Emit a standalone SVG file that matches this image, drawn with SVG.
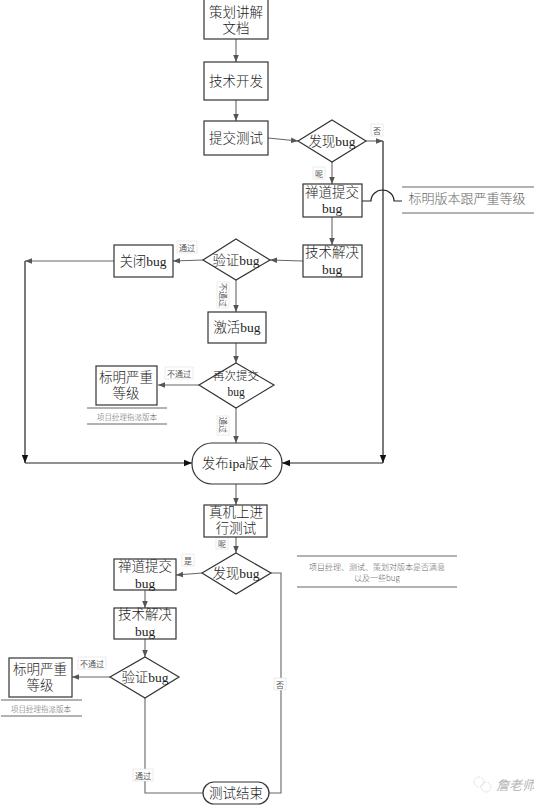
<svg xmlns="http://www.w3.org/2000/svg" width="534" height="809" viewBox="0 0 534 809">
<style>
.box{fill:#fff;stroke:#333;stroke-width:1.2}
.t{font-family:"Liberation Serif","Noto Sans CJK SC",serif;font-size:13.5px;font-weight:300;fill:#222;text-anchor:middle;dominant-baseline:central}
.ts{font-family:"Liberation Serif","Noto Sans CJK SC",serif;font-size:11.5px;font-weight:300;fill:#222;text-anchor:middle;dominant-baseline:central}
.c{fill:none;stroke:#666;stroke-width:1.1}
.cd{fill:none;stroke:#222;stroke-width:1.2}
.lb{font-family:"Noto Sans CJK SC",sans-serif;font-size:8px;fill:#555;text-anchor:middle;dominant-baseline:central}
.lbg{fill:#fff;stroke:#ddd;stroke-width:0.6}
.an{stroke:#666;stroke-width:1.2}
.at{font-family:"Noto Sans CJK SC",sans-serif;font-weight:300;fill:#666;text-anchor:middle;dominant-baseline:central}
</style>
<defs>
<marker id="ar" viewBox="0 0 10 10" refX="10" refY="5" markerWidth="7" markerHeight="7" markerUnits="userSpaceOnUse" orient="auto">
<path d="M0,1 L10,5 L0,9 Z" fill="#555"/>
</marker>
<marker id="ard" viewBox="0 0 10 10" refX="10" refY="5" markerWidth="8" markerHeight="8" markerUnits="userSpaceOnUse" orient="auto">
<path d="M0,1 L10,5 L0,9 Z" fill="#111"/>
</marker>
</defs>

<g id="connectors">
<path class="c" d="M236,39 L236,62" marker-end="url(#ar)"/>
<path class="c" d="M236,100 L236,121" marker-end="url(#ar)"/>
<path class="c" d="M268,138 L298,141" marker-end="url(#ar)"/>
<path class="c" d="M366,141 L383,141" marker-end="url(#ar)"/>
<path class="cd" d="M383,141 L383,463" marker-end="url(#ard)"/>
<path class="cd" d="M383,463 L282,463" marker-end="url(#ard)"/>
<path class="c" d="M332,162 L332,184" marker-end="url(#ar)"/>
<path class="cd" d="M362,201 L371,201 A11.5,11 0 0 1 394,201 L402,201"/>
<path class="c" d="M332,217 L332,245" marker-end="url(#ar)"/>
<path class="c" d="M303,261 L270,260" marker-end="url(#ar)"/>
<path class="c" d="M203,260 L173,261" marker-end="url(#ar)"/>
<path class="c" d="M114,261 L25,261" marker-end="url(#ar)"/>
<path class="cd" d="M25,261 L25,463" marker-end="url(#ard)"/>
<path class="cd" d="M25,463 L192,463" marker-end="url(#ard)"/>
<path class="c" d="M236,280 L236,312" marker-end="url(#ar)"/>
<path class="c" d="M236,343 L236,363" marker-end="url(#ar)"/>
<path class="c" d="M199,385 L158,385" marker-end="url(#ar)"/>
<path class="c" d="M236,408 L236,443" marker-end="url(#ar)"/>
<path class="c" d="M236,484 L236,505" marker-end="url(#ar)"/>
<path class="c" d="M236,537 L236,553" marker-end="url(#ar)"/>
<path class="c" d="M202,573 L176,575" marker-end="url(#ar)"/>
<path class="c" d="M145,590 L145,608" marker-end="url(#ar)"/>
<path class="c" d="M145,639 L145,657" marker-end="url(#ar)"/>
<path class="c" d="M110,677 L72,677" marker-end="url(#ar)"/>
<path class="c" d="M145,698 L145,793 L203,793"/>
<path class="c" d="M271,573 L281,573 L281,793 L269,793"/>

<rect class="lbg" x="371" y="124" width="12" height="12"/><text class="lb" x="377" y="130">否</text>
<rect class="lbg" x="313" y="167" width="12" height="12"/><text class="lb" x="319" y="173">呢</text>
<rect class="lbg" x="177" y="241" width="20" height="12"/><text class="lb" x="187" y="247">通过</text>
<rect class="lbg" x="217" y="282" width="12" height="26"/><text class="lb" transform="translate(223,295) rotate(90)">不通过</text>
<rect class="lbg" x="165" y="367" width="28" height="12"/><text class="lb" x="179" y="373">不通过</text>
<rect class="lbg" x="217" y="416" width="12" height="19"/><text class="lb" transform="translate(223,425) rotate(90)">通过</text>
<rect class="lbg" x="216" y="537" width="12" height="12"/><text class="lb" x="222" y="543">呢</text>
<rect class="lbg" x="182" y="554" width="12" height="12"/><text class="lb" x="188" y="560">是</text>
<rect class="lbg" x="78" y="657" width="28" height="12"/><text class="lb" x="92" y="663">不通过</text>
<rect class="lbg" x="133" y="769" width="20" height="12"/><text class="lb" x="143" y="775">通过</text>
<rect class="lbg" x="274" y="678" width="12" height="12"/><text class="lb" x="280" y="684">否</text>
</g>

<g id="n-plan"><rect class="box" x="204" y="-1" width="64" height="40"/><text class="t" x="236" y="12">策划讲解</text><text class="t" x="236" y="28">文档</text></g>
<g id="n-dev"><rect class="box" x="204" y="62" width="64" height="38"/><text class="t" x="236" y="81">技术开发</text></g>
<g id="n-submit"><rect class="box" x="204" y="121" width="64" height="34"/><text class="t" x="236" y="138">提交测试</text></g>
<g id="n-find1"><polygon class="box" points="332,120 366,141 332,162 298,141"/><text class="t" x="332" y="141">发现bug</text></g>
<g id="n-zentao1"><rect class="box" x="303" y="184" width="59" height="33"/><text class="t" x="332" y="192">禅道提交</text><text class="t" x="332" y="208">bug</text></g>
<g id="n-note1"><line class="an" x1="402" y1="187" x2="534" y2="187"/><line class="an" x1="402" y1="213" x2="534" y2="213"/><text class="at" x="467" y="197" font-size="13">标明版本跟严重等级</text></g>
<g id="n-fix1"><rect class="box" x="303" y="245" width="59" height="32"/><text class="t" x="332" y="252">技术解决</text><text class="t" x="332" y="269">bug</text></g>
<g id="n-verify1"><polygon class="box" points="236,239 270,260 236,280 203,260"/><text class="t" x="236" y="260">验证bug</text></g>
<g id="n-close"><rect class="box" x="114" y="245" width="59" height="32"/><text class="t" x="143" y="261">关闭bug</text></g>
<g id="n-activate"><rect class="box" x="208" y="312" width="58" height="31"/><text class="t" x="237" y="327">激活bug</text></g>
<g id="n-resubmit"><polygon class="box" points="236,363 274,385 236,408 199,385"/><text class="ts" x="236" y="376">再次提交</text><text class="ts" x="236" y="392" font-size="10">bug</text></g>
<g id="n-mark1"><rect class="box" x="96" y="366" width="61" height="39"/><text class="t" x="126" y="377">标明严重</text><text class="t" x="126" y="393">等级</text></g>
<g id="n-note2"><line class="an" x1="87" y1="408" x2="167" y2="408"/><line class="an" x1="87" y1="424" x2="167" y2="424"/><text class="at" x="127" y="416" font-size="7.5">项目经理指派版本</text></g>
<g id="n-release"><rect class="box" x="192" y="443" width="90" height="41" rx="20" ry="20"/><text class="t" x="237" y="463" font-size="15">发布ipa版本</text></g>
<g id="n-device"><rect class="box" x="204" y="505" width="63" height="32"/><text class="t" x="236" y="512">真机上进</text><text class="t" x="236" y="528">行测试</text></g>
<g id="n-find2"><polygon class="box" points="236,553 271,573 236,594 202,573"/><text class="t" x="236" y="573">发现bug</text></g>
<g id="n-note3"><line class="an" x1="297" y1="556" x2="457" y2="556"/><line class="an" x1="297" y1="587" x2="457" y2="587"/><text class="at" x="377" y="566" font-size="8">项目经理、测试、策划对版本是否满意</text><text class="at" x="377" y="577" font-size="8">以及一些bug</text></g>
<g id="n-zentao2"><rect class="box" x="114" y="559" width="62" height="31"/><text class="t" x="145" y="566">禅道提交</text><text class="t" x="145" y="583">bug</text></g>
<g id="n-fix2"><rect class="box" x="114" y="608" width="62" height="31"/><text class="t" x="145" y="614">技术解决</text><text class="t" x="145" y="631">bug</text></g>
<g id="n-verify2"><polygon class="box" points="145,657 179,677 145,698 110,677"/><text class="t" x="145" y="677">验证bug</text></g>
<g id="n-mark2"><rect class="box" x="9" y="658" width="63" height="39"/><text class="t" x="40" y="669">标明严重</text><text class="t" x="40" y="685">等级</text></g>
<g id="n-note4"><line class="an" x1="1" y1="700" x2="82" y2="700"/><line class="an" x1="1" y1="716" x2="82" y2="716"/><text class="at" x="41" y="708" font-size="7.5">项目经理指派版本</text></g>
<g id="n-end"><rect class="box" x="203" y="782" width="66" height="22" rx="11" ry="11"/><text class="t" x="236" y="793">测试结束</text></g>

<g id="watermark" opacity="0.55">
<circle cx="479" cy="782" r="5" fill="none" stroke="#aaa" stroke-width="0.8" stroke-dasharray="1.5,1"/>
<circle cx="486" cy="787" r="5" fill="none" stroke="#aaa" stroke-width="0.8" stroke-dasharray="1.5,1"/>
<text x="496" y="784" font-family="Noto Sans CJK SC,sans-serif" font-size="13" font-style="italic" fill="#777" dominant-baseline="central">詹老师</text>
</g>
</svg>
